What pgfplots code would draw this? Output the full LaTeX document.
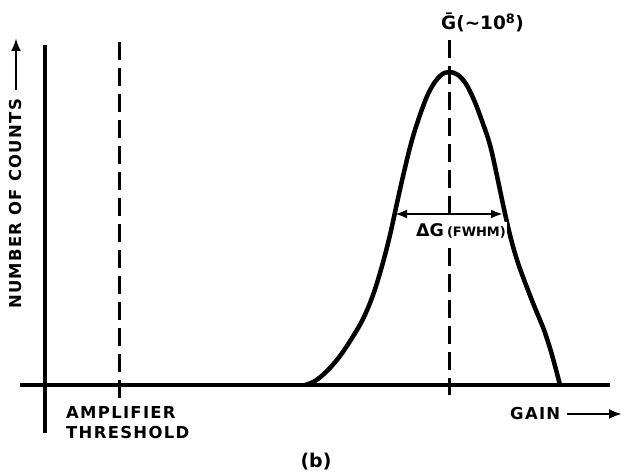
\documentclass[border=0pt]{standalone}
\usepackage{fontspec}
\setmainfont{DejaVu Sans}
\newfontfamily\lab[LetterSpace=8]{DejaVu Sans}
\usepackage{pgfplots}
\pgfplotsset{compat=1.18}
\usetikzlibrary{arrows.meta}
\begin{document}
\begin{tikzpicture}
\begin{axis}[
  scale only axis, width=628bp, height=476bp,
  xmin=0, xmax=628, ymin=0, ymax=476,
  axis lines=none, clip=false,
]
% frame for bounding box
\addplot[draw=none] coordinates {(0,0) (628,476)};
% axes
\addplot[black, line width=3.2bp] coordinates {(20,91) (610,91)};
\addplot[black, line width=3.2bp] coordinates {(45,431) (45,43)};
% threshold dashed line
\addplot[black, line width=3bp, dash pattern=on 18bp off 8bp] coordinates {(119,434) (119,78)};
% centre dashed line
\addplot[black, line width=3bp, dash pattern=on 18bp off 8bp] coordinates {(449,436) (449,81)};
% gain distribution
\addplot[black, line width=4.5bp, smooth, tension=0.6, line join=round] coordinates {
 (305,91) (315,95) (327,105) (340,120) (352,138) (363,157) (373,181)
 (382,210) (390,241) (397,273) (404,304) (412,336) (421,364) (430,386)
 (440,400) (449,404)
 (458,401) (466,392) (474,376) (482,355) (490,331) (497,300) (504,267)
 (511,237) (518,213) (526,191) (535,168) (544,146) (552,121) (560,91)};
% FWHM arrow
\addplot[black, line width=2.6bp, {Latex[length=12bp,width=9bp]}-{Latex[length=12bp,width=9bp]}] coordinates {(395,262) (503,262)};
% axis arrows
\addplot[black, line width=2.8bp, -{Latex[length=13bp,width=10bp]}] coordinates {(16,386) (16,438)};
\addplot[black, line width=2.8bp, -{Latex[length=13bp,width=10bp]}] coordinates {(567,62) (622,62)};
% labels
\node[rotate=90, font=\lab\bfseries\fontsize{16.5}{18}\selectfont] at (axis cs:16,272) {NUMBER OF COUNTS};
\node[anchor=base west, inner sep=0pt, font=\lab\bfseries\fontsize{16.5}{18}\selectfont] at (axis cs:66,57) {AMPLIFIER};
\node[anchor=base west, inner sep=0pt, font=\lab\bfseries\fontsize{16.5}{18}\selectfont] at (axis cs:66,37) {THRESHOLD};
\node[anchor=base west, inner sep=0pt, font=\lab\bfseries\fontsize{16.5}{18}\selectfont] at (axis cs:510,56) {GAIN};
\node[anchor=base, inner sep=0pt, font=\bfseries\fontsize{19}{21}\selectfont] at (axis cs:316,9) {(b)};
\node[anchor=base west, inner sep=0pt, font=\bfseries\fontsize{18.5}{20}\selectfont] at (axis cs:441,446) {\=G(\char"223C 10\textsuperscript{8})};
\node[anchor=base west, inner xsep=1pt, inner ysep=2pt, fill=white, font=\bfseries] at (axis cs:415,239) {{\fontsize{17.5}{19}\selectfont ΔG}\hspace{3bp}{\fontsize{13}{15}\selectfont(FWHM)}};
\end{axis}
\end{tikzpicture}
\end{document}
